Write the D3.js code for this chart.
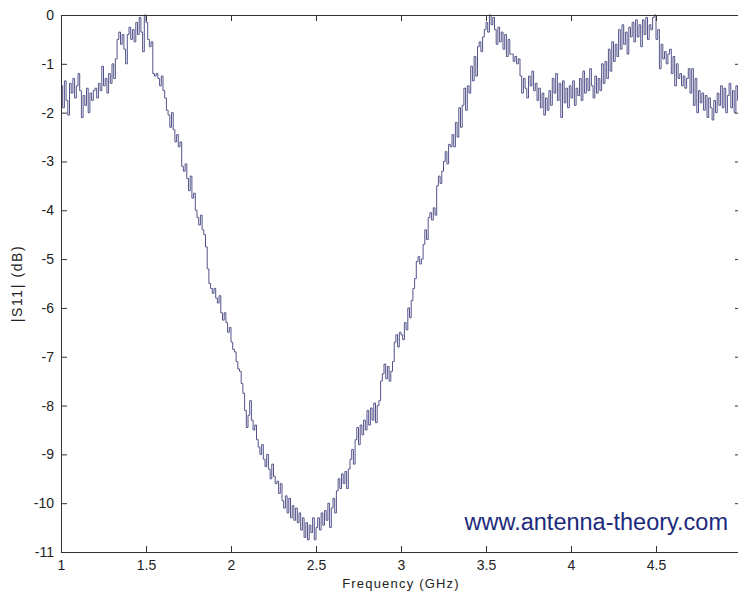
<!DOCTYPE html>
<html>
<head>
<meta charset="utf-8">
<script src="https://cdn.jsdelivr.net/npm/d3@7"></script>
<style>
  html, body { margin: 0; padding: 0; background: #ffffff; }
  svg { display: block; }
</style>
</head>
<body>
<svg id="chart" width="738" height="592"></svg>
<script>
// ---- data ----
const freqStart = 1.0;          // GHz
const freqStep = 0.01;          // GHz between samples
const s11Values = [
  -1.45, -1.9, -1.35, -1.75, -2.05, -1.4, -1.6, -1.3, -1.7, -1.45,
  -1.2, -1.55, -2.1, -1.65, -1.85, -1.5, -2.0, -1.6, -1.75, -1.55,
  -1.5, -1.7, -1.4, -1.55, -1.05, -1.45, -1.3, -1.6, -1.2, -1.4,
  -1.0, -1.3, -0.9, -0.5, -0.35, -0.6, -0.4, -0.7, -1.0, -0.4,
  -0.25, -0.5, -0.3, -0.55, -0.15, -0.4, -0.05, -0.35, -0.75, 0,
  -0.15, -0.5, -0.65, -0.55, -1.2, -1.25, -1.2, -1.3, -1.45, -1.25,
  -1.55, -1.7, -1.95, -2.05, -2.3, -2.0, -2.35, -2.6, -2.45, -2.7,
  -2.6, -3.1, -3.2, -3.05, -3.35, -3.6, -3.3, -3.75, -3.65, -4.0,
  -4.15, -4.3, -4.1, -4.4, -4.5, -4.75, -5.2, -5.5, -5.6, -5.7,
  -5.6, -5.8, -5.9, -5.75, -6.1, -6.25, -6.1, -6.3, -6.5, -6.4,
  -6.7, -6.85, -6.9, -7.1, -7.25, -7.3, -7.55, -7.75, -8.1, -8.45,
  -8.2, -7.9, -8.3, -8.5, -8.4, -8.7, -8.85, -9.0, -8.8, -9.1,
  -9.25, -9.0, -9.3, -9.5, -9.2, -9.45, -9.6, -9.55, -9.8, -9.6,
  -9.95, -10.1, -9.85, -10.2, -9.9, -10.3, -10.05, -10.35, -10.1, -10.4,
  -10.2, -10.55, -10.3, -10.7, -10.4, -10.75, -10.45, -10.6, -10.3, -10.75,
  -10.5, -10.3, -10.55, -10.2, -10.45, -10.15, -10.35, -10.0, -10.5, -10.1,
  -9.9, -10.2, -9.75, -9.5, -9.7, -9.4, -9.6, -9.35, -9.7, -9.3,
  -9.1, -8.9, -9.2, -8.7, -8.45, -8.8, -8.4, -8.6, -8.3, -8.5,
  -8.1, -8.4, -8.05, -8.3, -7.95, -8.35, -8.0, -7.9, -7.5, -7.35,
  -7.15, -7.45, -7.2, -7.5, -7.3, -7.1, -6.7, -6.55, -6.8, -6.5,
  -6.55, -6.65, -6.3, -6.45, -6.0, -6.2, -5.85, -5.6, -5.4, -5.05,
  -4.95, -5.1, -5.0, -4.7, -4.4, -4.6, -4.15, -4.05, -4.2, -3.95,
  -4.1, -3.5, -3.3, -3.45, -3.2, -3.0, -2.8, -3.05, -2.65, -2.7,
  -2.45, -2.7, -2.2, -2.5, -1.9, -2.3, -1.85, -1.5, -1.95, -1.45,
  -1.6, -1.05, -1.35, -0.85, -1.25, -0.65, -0.55, -0.75, -0.45, -0.3,
  -0.15, -0.35, 0, -0.2, -0.05, -0.3, -0.6, -0.25, -0.55, -0.35,
  -0.7, -0.4, -0.85, -0.5, -0.8, -0.8, -0.95, -0.85, -1.0, -0.9,
  -1.25, -1.6, -1.3, -1.5, -1.7, -1.25, -1.45, -1.15, -1.55, -1.4,
  -1.75, -1.5, -1.9, -1.6, -2.05, -1.7, -1.95, -1.55, -1.85, -1.3,
  -1.6, -1.2, -1.75, -1.4, -2.1, -1.35, -1.8, -1.5, -1.9, -1.45,
  -1.7, -1.35, -1.85, -1.5, -1.65, -1.3, -1.75, -1.15, -1.6, -1.3,
  -1.55, -1.1, -1.45, -1.7, -1.25, -1.6, -1.3, -1.55, -1.0, -1.4,
  -0.95, -1.3, -0.7, -1.15, -0.55, -0.95, -0.6, -0.85, -0.3, -0.7,
  -0.2, -0.6, -0.35, -0.8, -0.25, -0.45, -0.15, -0.55, -0.1, -0.45,
  -0.2, -0.65, -0.1, -0.4, -0.05, -0.5, -0.2, -0.3, -0.05, 0,
  -0.5, -0.3, -1.1, -0.6, -0.9, -0.75, -1.0, -0.8, -0.7, -1.2,
  -0.85, -1.45, -1.0, -1.3, -1.2, -1.45, -1.25, -1.5, -1.3, -1.1,
  -1.6, -1.1, -1.85, -1.3, -2.0, -1.55, -1.8, -1.6, -1.95, -1.65,
  -2.1, -1.7, -1.9, -2.15, -1.75, -2.0, -1.6, -1.85, -1.45, -1.9,
  -1.5, -2.0, -1.65, -1.4, -1.9, -1.55, -2.0, -1.45, -1.75, -1.6,
  -1.8
];
const xTicks = [1, 1.5, 2, 2.5, 3, 3.5, 4, 4.5, 5];
const xTickLabels = ["1", "1.5", "2", "2.5", "3", "3.5", "4", "4.5", "5"];
const yTicks = [0, -1, -2, -3, -4, -5, -6, -7, -8, -9, -10, -11];
const yTickLabels = ["0", "-1", "-2", "-3", "-4", "-5", "-6", "-7", "-8", "-9", "-10", "-11"];
const xTitle = "Frequency (GHz)";
const yTitle = "|S11| (dB)";
const watermark = "www.antenna-theory.com";

// ---- layout ----
const svg = d3.select("#chart");
const L = 61, R = 741, T = 15, B = 552;
const x = d3.scaleLinear().domain([1, 5]).range([L, R]);
const y = d3.scaleLinear().domain([-11, 0]).range([B, T]);
const font = "Liberation Sans, Arial, sans-serif";
const axisColor = "#333333";

svg.append("rect").attr("width", 738).attr("height", 592).attr("fill", "#fff");

const data = s11Values.map((v, i) => ({ f: freqStart + i * freqStep, v }));

// line
const line = d3.line()
  .x(d => x(d.f))
  .y(d => y(d.v))
  .curve(d3.curveStepAfter);
svg.append("path")
  .datum(data)
  .attr("fill", "none")
  .attr("stroke", "#53538a")
  .attr("stroke-width", 1)
  .attr("d", line);

// axes (box with inward ticks)
function styleAxis(g) {
  g.selectAll(".domain").attr("stroke", axisColor).attr("stroke-width", 1);
  g.selectAll(".tick line").attr("stroke", axisColor).attr("stroke-width", 1);
  g.selectAll("text").attr("fill", "#222").style("font-family", font).style("font-size", "14px");
}
const xAxisB = d3.axisBottom(x).tickValues(xTicks).tickFormat((d, i) => xTickLabels[i])
  .tickSizeInner(-6).tickSizeOuter(0).tickPadding(8);
svg.append("g").attr("transform", `translate(0,${B})`).call(xAxisB).call(styleAxis);

const xAxisT = d3.axisTop(x).tickValues(xTicks).tickFormat("").tickSizeInner(-6).tickSizeOuter(0);
svg.append("g").attr("transform", `translate(0,${T})`).call(xAxisT).call(styleAxis);

const yAxisL = d3.axisLeft(y).tickValues(yTicks).tickFormat((d, i) => yTickLabels[i])
  .tickSizeInner(-6).tickSizeOuter(0).tickPadding(7);
svg.append("g").attr("transform", `translate(${L},0)`).call(yAxisL).call(styleAxis);

const yAxisR = d3.axisRight(y).tickValues(yTicks).tickFormat("").tickSizeInner(-6).tickSizeOuter(0);
svg.append("g").attr("transform", `translate(${R},0)`).call(yAxisR).call(styleAxis);

// titles
svg.append("text")
  .attr("x", (L + R) / 2).attr("y", 588)
  .attr("text-anchor", "middle")
  .style("font-family", font).style("font-size", "13px").style("letter-spacing", "1.2px")
  .attr("fill", "#222")
  .text(xTitle);

svg.append("text")
  .attr("transform", `translate(22,${(T + B) / 2}) rotate(-90)`)
  .attr("text-anchor", "middle")
  .style("font-family", font).style("font-size", "14px").style("letter-spacing", "1.6px")
  .attr("fill", "#222")
  .text(yTitle);

// watermark
svg.append("text")
  .attr("x", 728).attr("y", 530)
  .attr("text-anchor", "end")
  .style("font-family", font).style("font-size", "23.5px").attr("fill", "#1c2a7c")
  .text(watermark);
</script>
</body>
</html>
